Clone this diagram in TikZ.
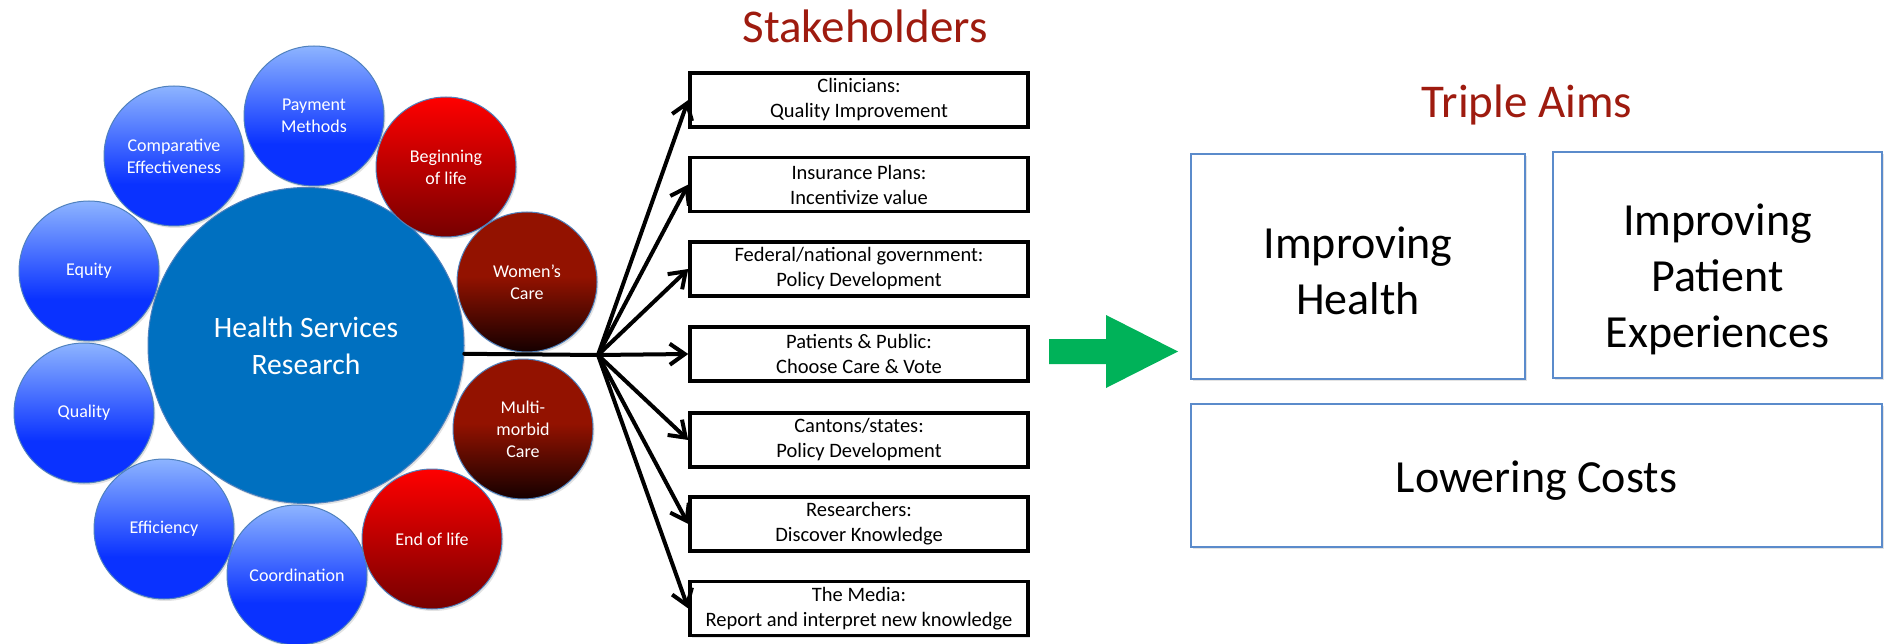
\documentclass[tikz,border=0pt]{standalone}
\usepackage{fontspec}
\setmainfont{Carlito}
\usetikzlibrary{arrows.meta,shadows}
\definecolor{hsrBlue}{HTML}{0070C0}
\definecolor{ringBlue}{HTML}{4F81BD}
\definecolor{cBlueD}{HTML}{0A32FF}
\definecolor{cBlueL}{HTML}{8DB4FF}
\definecolor{rTop}{HTML}{FF0000}
\definecolor{rBot}{HTML}{760000}
\definecolor{dMid}{HTML}{931200}
\definecolor{dBot}{HTML}{150000}
\definecolor{titleRed}{HTML}{9E1B0F}
\definecolor{aimBlue}{HTML}{5B8BCB}
\definecolor{goGreen}{HTML}{00B259}
\pgfdeclareverticalshading{blueball}{100bp}{color(0bp)=(cBlueD); color(40bp)=(cBlueD); color(75bp)=(cBlueL); color(100bp)=(cBlueL)}
\pgfdeclareverticalshading{redball}{100bp}{color(0bp)=(rBot); color(25bp)=(rBot); color(75bp)=(rTop); color(100bp)=(rTop)}
\pgfdeclareverticalshading{darkball}{100bp}{color(0bp)=(dBot); color(25bp)=(dBot); color(52bp)=(dMid); color(100bp)=(dMid)}
\begin{document}
\begin{tikzpicture}[x=1pt,y=-1pt,
  softshadow/.style={drop shadow={opacity=0.22, shadow xshift=1.5pt, shadow yshift=-2pt}},
  ball/.style={circle, minimum size=140pt, inner sep=0pt, draw=ringBlue, line width=1pt,
    text=white, align=center, font=\fontsize{18}{22}\selectfont, softshadow},
  bball/.style={ball, shading=blueball},
  rball/.style={ball, shading=redball},
  dball/.style={ball, shading=darkball},
  sbox/.style={draw=black, line width=3.5pt, fill=white, minimum width=338pt, minimum height=54pt,
    inner sep=0pt, align=center, font=\fontsize{20.5}{25}\selectfont, softshadow},
  aimbox/.style={draw=aimBlue, line width=1.8pt, fill=white, inner sep=0pt, softshadow},
  aimtext/.style={inner sep=0pt, align=center, font=\fontsize{46}{56}\selectfont},
  title/.style={text=titleRed, font=\fontsize{47}{56}\selectfont, inner sep=0pt, anchor=base},
  conn/.style={draw=black, line width=4pt, line cap=round, line join=round},
  tip/.style={-{Straight Barb[length=15pt, width=21pt]}}
]
\useasboundingbox (0,0) rectangle (1886,644);

% central circle
\node[circle, minimum size=316pt, inner sep=0pt, fill=hsrBlue, draw=ringBlue, line width=1pt,
  text=white, align=center, font=\fontsize{29.6}{37}\selectfont, softshadow] (hsr) at (306,345.5)
  {Health Services\\Research};

% surrounding circles
\node[bball] (pay)   at (314,116) {Payment\\Methods};
\node[bball] (comp)  at (174,156) {Comparative\\Effectiveness};
\node[bball] (eq)    at (89,271)  {Equity};
\node[bball] (qual)  at (84,413)  {Quality};
\node[bball] (eff)   at (164,529) {Efficiency};
\node[bball] (coord) at (297,575) {Coordination};
\node[rball] (eol)   at (432,539) {End of life};
\node[dball] (multi) at (523,429) {Multi-\\morbid\\Care};
\node[rball] (begin) at (446,167) {Beginning\\of life};
\node[dball] (women) at (527,282) {Women’s\\Care};

% stakeholders
\node[title] (sth) at (865,43) {Stakeholders};
\node[sbox] (s1) at (859,100)   {Clinicians:\\Quality Improvement};
\node[sbox] (s2) at (859,184.5) {Insurance Plans:\\Incentivize value};
\node[sbox] (s3) at (859,269)   {Federal/national government:\\Policy Development};
\node[sbox] (s4) at (859,354)   {Patients \& Public:\\Choose Care \& Vote};
\node[sbox] (s5) at (859,440)   {Cantons/states:\\Policy Development};
\node[sbox] (s6) at (859,524)   {Researchers:\\Discover Knowledge};
\node[sbox] (s7) at (859,608.5) {The Media:\\Report and interpret new knowledge};

% connectors
\coordinate (hub) at (598,355);
\draw[conn] (hsr.-3.4) -- (hub);
\foreach \s in {s1,s2,s3,s4,s5,s6,s7}
  \draw[conn, tip] (hub) -- (\s.west);

% green arrow
\fill[goGreen] (1049,339) -- (1106,339) -- (1106,315) -- (1178,351.5) -- (1106,388)
  -- (1106,364) -- (1049,364) -- cycle;

% triple aims
\node[title] (ta) at (1527,118) {Triple Aims};
\node[aimbox, minimum width=334pt, minimum height=225pt] (ih) at (1358,266.5) {};
\node[aimbox, minimum width=329pt, minimum height=226pt] (ip) at (1717.5,265) {};
\node[aimbox, minimum width=691pt, minimum height=143pt] (lc) at (1536.5,475.5) {};
\node[aimtext] (iht) at (1358,271) {Improving\\Health};
\node[aimtext] (ipt) at (1717.5,279) {Improving\\Patient\\Experiences};
\node[aimtext] (lct) at (1536.5,481) {Lowering Costs};
\end{tikzpicture}
\end{document}
